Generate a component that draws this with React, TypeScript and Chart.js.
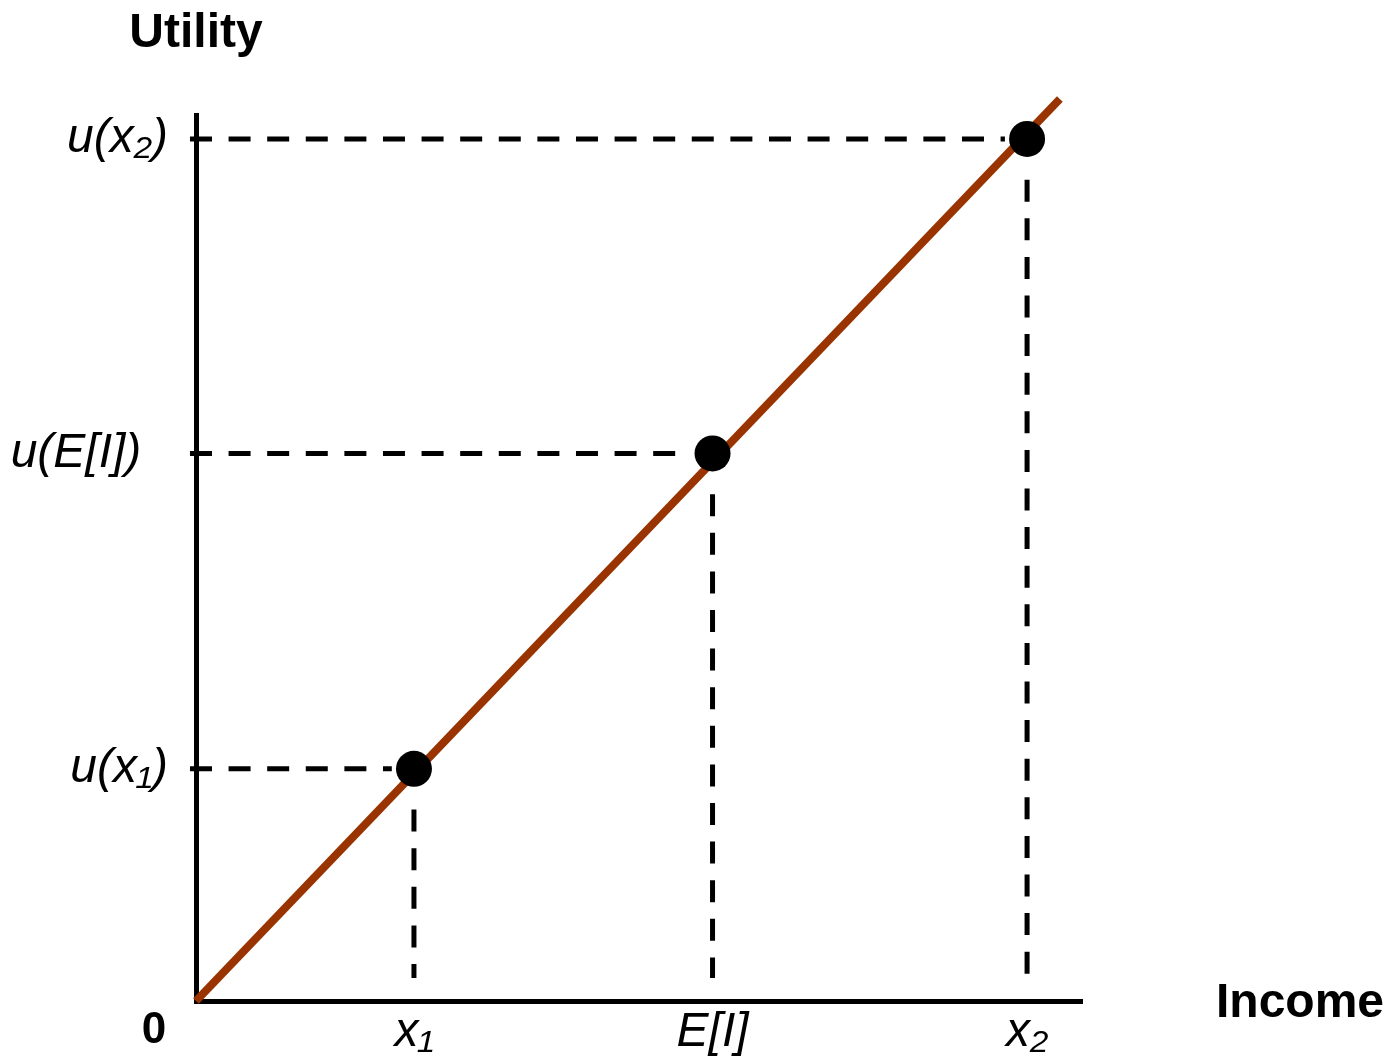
import React, { useEffect, useRef } from "react";
import { Chart, registerables } from "chart.js";

Chart.register(...registerables);

// ---- data ----
const incomeLevels = [24.6, 58.3, 93.8]; // x1, E[I], x2
const utilityLevels = [26.2, 61.8, 97.3]; // u(x1), u(E[I]), u(x2)
const xTickLabels = ["x\u2081", "E[I]", "x\u2082"];
const yTickLabels = ["u(x\u2081)", "u(E[I])", "u(x\u2082)"];
const utilityLineX = [0, 97.5];
const utilityLineY = [0, 101.8];
const xTitle = "Income";
const yTitle = "Utility";
const originLabel = "0";

const FONT = '"Liberation Sans", Arial, Helvetica, sans-serif';
const BROWN = "#993300";

const titlesPlugin = {
  id: "axisTitles",
  afterDraw(chart: any) {
    const { ctx, chartArea } = chart;
    ctx.save();
    ctx.fillStyle = "#000";
    ctx.textBaseline = "alphabetic";
    ctx.font = `bold 48px ${FONT}`;
    ctx.textAlign = "center";
    ctx.fillText(yTitle, chartArea.left, chartArea.top - 68);
    ctx.textAlign = "left";
    ctx.fillText(xTitle, chartArea.right + 134, chartArea.bottom + 16);
    ctx.font = `bold 44px ${FONT}`;
    ctx.textAlign = "center";
    ctx.fillText(originLabel, chartArea.left - 42, chartArea.bottom + 42);
    ctx.restore();
  },
};

export default function App() {
  const canvasRef = useRef<HTMLCanvasElement | null>(null);

  useEffect(() => {
    if (!canvasRef.current) return;
    Chart.defaults.font.family = FONT;

    const dash = [22, 16.6];
    const hStart = -0.68;
    const hGap = 2.5;
    const vGap = 4.6;
    const vEnd = 2.6;

    const horizontal = incomeLevels.map((x, i) => ({
      data: [
        { x: hStart, y: utilityLevels[i] },
        { x: x - hGap, y: utilityLevels[i] },
      ],
      showLine: true,
      borderColor: "#000",
      borderWidth: 5,
      borderDash: dash,
      borderCapStyle: "butt",
      pointRadius: 0,
      clip: false,
    }));
    const vertical = incomeLevels.map((x, i) => ({
      data: [
        { x, y: utilityLevels[i] - vGap },
        { x, y: vEnd },
      ],
      showLine: true,
      borderColor: "#000",
      borderWidth: 5,
      borderDash: dash,
      borderCapStyle: "butt",
      pointRadius: 0,
      clip: false,
    }));

    const chart = new Chart(canvasRef.current, {
      type: "scatter",
      data: {
        datasets: [
          {
            label: "points",
            data: incomeLevels.map((x, i) => ({ x, y: utilityLevels[i] })),
            showLine: false,
            pointRadius: 18,
            pointHoverRadius: 18,
            pointBackgroundColor: "#000",
            pointBorderWidth: 0,
            clip: false,
          },
          {
            label: "utility",
            data: utilityLineX.map((x, i) => ({ x, y: utilityLineY[i] })),
            showLine: true,
            borderColor: BROWN,
            borderWidth: 8,
            borderCapStyle: "butt",
            pointRadius: 0,
            clip: false,
          },
          ...horizontal,
          ...vertical,
        ] as any,
      },
      options: {
        animation: false,
        responsive: false,
        devicePixelRatio: 1,
        layout: { padding: { top: 115, right: 313, bottom: 0, left: 0 } },
        plugins: {
          legend: { display: false },
          tooltip: { enabled: false },
        },
        scales: {
          x: {
            type: "linear",
            min: 0,
            max: 100,
            grid: { display: false, drawTicks: false },
            border: { display: true, color: "#000", width: 5 },
            afterBuildTicks: (scale: any) => {
              scale.ticks = incomeLevels.map((v) => ({ value: v }));
            },
            afterFit: (scale: any) => {
              scale.height = 61;
            },
            ticks: {
              autoSkip: false,
              maxRotation: 0,
              padding: 3,
              color: "#000",
              font: { size: 48, style: "italic", family: FONT },
              callback: (_v: any, i: number) => xTickLabels[i],
            },
          },
          y: {
            type: "linear",
            min: 0,
            max: 100,
            grid: { display: false, drawTicks: false },
            border: { display: true, color: "#000", width: 5 },
            afterBuildTicks: (scale: any) => {
              scale.ticks = utilityLevels.map((v) => ({ value: v }));
            },
            afterFit: (scale: any) => {
              scale.width = 196;
            },
            ticks: {
              autoSkip: false,
              padding: 28,
              color: "#000",
              font: { size: 48, style: "italic", family: FONT },
              callback: (_v: any, i: number) =>
                yTickLabels[i] + (yTickLabels[i].includes("E") ? "  " : ""),
            },
          },
        },
      } as any,
      plugins: [titlesPlugin],
    });

    return () => chart.destroy();
  }, []);

  return (
    <div
      style={{
        position: "fixed",
        left: 0,
        top: 0,
        width: 1395,
        height: 1062,
        background: "#fff",
      }}
    >
      <canvas ref={canvasRef} width={1395} height={1062} style={{ display: "block" }} />
    </div>
  );
}
